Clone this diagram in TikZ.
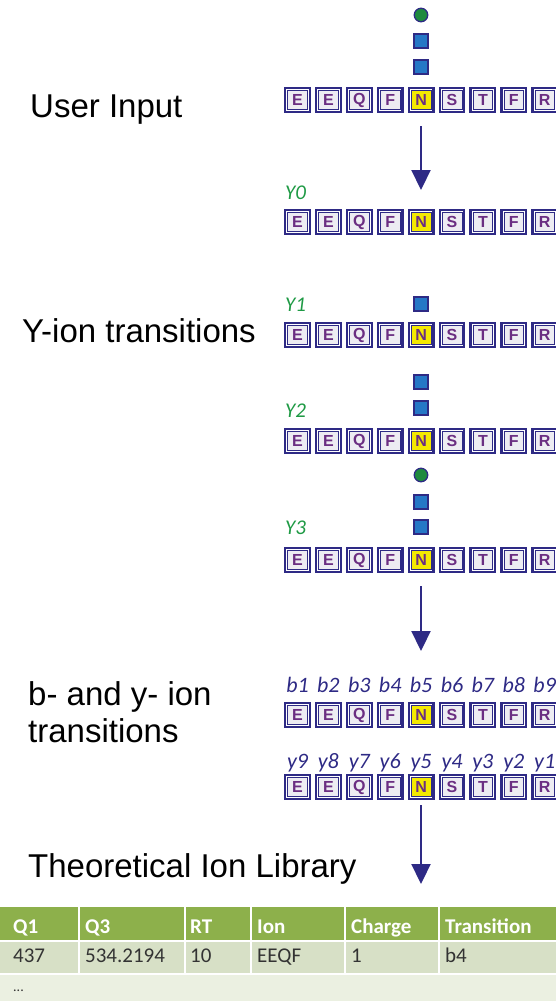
\documentclass[tikz,border=0pt]{standalone}
\usepackage{fontspec}
\setmainfont{Liberation Sans}
\newfontfamily\tablefont{Carlito}
\usetikzlibrary{arrows.meta,calc}

\definecolor{navy}{HTML}{2E2A85}
\definecolor{boxfill}{HTML}{EDECF2}
\definecolor{resletter}{HTML}{6B2E82}
\definecolor{hilite}{HTML}{F4E900}
\definecolor{iongreen}{HTML}{1F9A45}
\definecolor{ballgreen}{HTML}{1E8A3E}
\definecolor{sqblue}{HTML}{2577C6}
\definecolor{hdrgreen}{HTML}{8DB04B}
\definecolor{rowgreen}{HTML}{D7E0C6}
\definecolor{rowpale}{HTML}{EBF0E1}
\definecolor{celltext}{HTML}{333333}

\tikzset{
  resbox/.style={draw=navy, line width=2.4pt, minimum width=24.5pt, minimum height=23.5pt,
    inner sep=0pt, text=resletter, font=\fontsize{16}{16}\selectfont\bfseries},
  ballmark/.style={circle, draw=navy, line width=1.3pt, fill=ballgreen, minimum size=13.5pt, inner sep=0pt},
  cubemark/.style={draw=navy, line width=1.3pt, fill=sqblue, minimum size=14pt, inner sep=0pt},
  sidelabel/.style={anchor=base west, inner sep=0pt, font=\fontsize{33}{38}\selectfont},
  ionlabel/.style={anchor=west, inner sep=0pt, text=iongreen, font=\tablefont\itshape\fontsize{21}{21}\selectfont},
  fraglabel/.style={anchor=base, inner sep=0pt, text=navy, font=\tablefont\itshape\fontsize{22}{22}\selectfont},
  flow/.style={draw=navy, line width=2.2pt, -{Triangle[width=19pt,length=20pt]}},
  hdrcell/.style={anchor=base west, inner sep=0pt, text=white, font=\tablefont\bfseries\fontsize{21}{21}\selectfont},
  bodycell/.style={anchor=base west, inner sep=0pt, text=celltext, font=\tablefont\fontsize{21}{21}\selectfont},
}

% one row of residues E E Q F N S T F R, N highlighted
\newcommand\peptiderow[2]{%
  \foreach \res/\shade [count=\i] in {E/boxfill,E/boxfill,Q/boxfill,F/boxfill,N/hilite,S/boxfill,T/boxfill,F/boxfill,R/boxfill} {
    \node[resbox, fill=\shade] (#1-\i) at ({297.5+(\i-1)*30.9},#2) {\res};
    \draw[white, line width=0.8pt] ($(#1-\i.north west)+(2.8,2.8)$) rectangle ($(#1-\i.south east)+(-2.8,-2.8)$);
    \draw[navy, line width=0.7pt] ($(#1-\i.north west)+(3.6,3.6)$) rectangle ($(#1-\i.south east)+(-3.6,-3.6)$);
  }%
}

\begin{document}
\begin{tikzpicture}[x=1pt, y=-1pt]
\useasboundingbox (0,0) rectangle (556,1001);

% left-hand captions
\node[sidelabel] (cap-input) at (30,117) {User Input};
\node[sidelabel] (cap-yion) at (22,342) {Y-ion transitions};
\node[sidelabel] (cap-by1) at (28,705) {b- and y- ion};
\node[sidelabel] (cap-by2) at (28,742) {transitions};
\node[sidelabel] (cap-lib) at (28,877) {Theoretical Ion Library};

% user input with modifications
\node[ballmark] (in-ball) at (421,15) {};
\node[cubemark] (in-cube1) at (421,41) {};
\node[cubemark] (in-cube2) at (421,67) {};
\peptiderow{top}{100}

\coordinate (a1s) at (421,126);
\coordinate (a1e) at (421,190);
\draw[flow] (a1s) -- (a1e);

% Y0 .. Y3
\node[ionlabel] (lbl-y0) at (285,193) {Y0};
\peptiderow{yzero}{222}

\node[ionlabel] (lbl-y1) at (285,305) {Y1};
\node[cubemark] (y1-cube1) at (421,304) {};
\peptiderow{yone}{335}

\node[ionlabel] (lbl-y2) at (285,411) {Y2};
\node[cubemark] (y2-cube1) at (421,382) {};
\node[cubemark] (y2-cube2) at (421,408) {};
\peptiderow{ytwo}{441}

\node[ionlabel] (lbl-y3) at (285,528) {Y3};
\node[ballmark] (y3-ball) at (421,475) {};
\node[cubemark] (y3-cube1) at (421,502) {};
\node[cubemark] (y3-cube2) at (421,527) {};
\peptiderow{ythree}{560}

\coordinate (a2s) at (421,586);
\coordinate (a2e) at (421,651);
\draw[flow] (a2s) -- (a2e);

% b and y fragment series
\foreach \i in {1,...,9} {
  \node[fraglabel] (bl-\i) at ({297.5+(\i-1)*30.9},692) {b\i};
}
\peptiderow{bser}{715}
\foreach \i [evaluate=\i as \j using int(10-\i)] in {1,...,9} {
  \node[fraglabel] (yl-\i) at ({297.5+(\i-1)*30.9},768) {y\j};
}
\peptiderow{yser}{787}

\coordinate (a3s) at (421,805);
\coordinate (a3e) at (421,884);
\draw[flow] (a3s) -- (a3e);

% library table
\fill[hdrgreen] (0,907) rectangle (556,941);
\fill[rowgreen] (0,941) rectangle (556,974);
\fill[rowpale] (0,974) rectangle (556,1001);
\draw[white, line width=2pt] (0,941) -- (556,941) (0,974) -- (556,974);
\foreach \xc in {79,185,251,345,439} {
  \draw[white, line width=2pt] (\xc,907) -- (\xc,974);
}
\foreach \xc/\txt [count=\k] in {13/Q1,85/Q3,190/RT,257/Ion,351/Charge,445/Transition} {
  \node[hdrcell] (hdr-\k) at (\xc,933) {\txt};
}
\foreach \xc/\txt [count=\k] in {13/437,85/534.2194,190/10,257/EEQF,351/1,445/b4} {
  \node[bodycell] (cell-\k) at (\xc,962) {\txt};
}
\node[anchor=base west, inner sep=0pt, text=celltext, font=\tablefont\fontsize{14}{14}\selectfont] (more) at (13,991) {...};
\end{tikzpicture}
\end{document}
